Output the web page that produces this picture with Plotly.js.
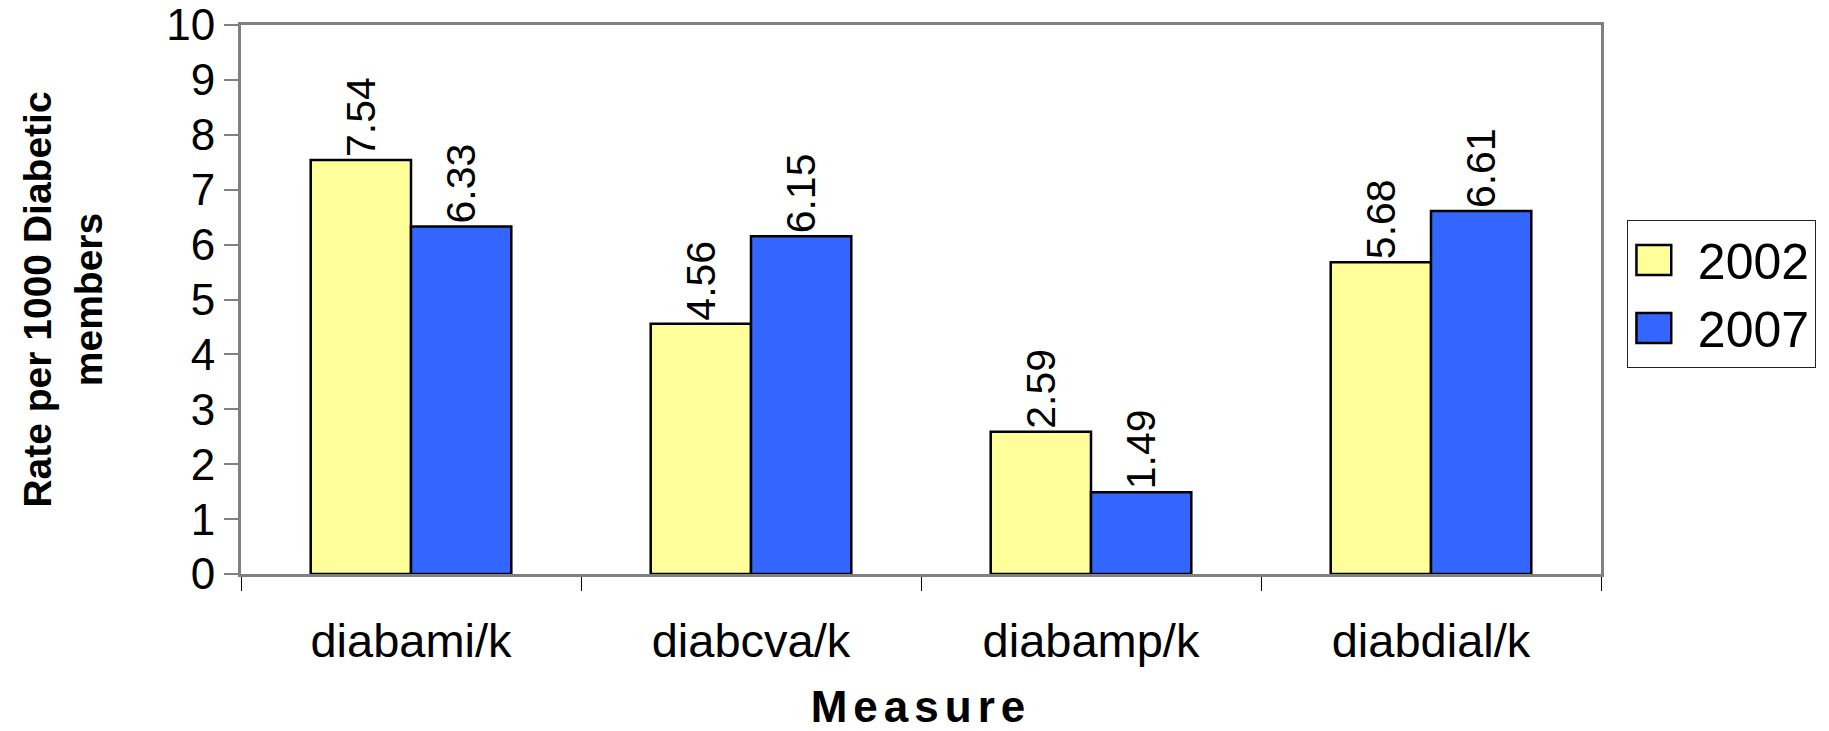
<!DOCTYPE html>
<html>
<head>
<meta charset="utf-8">
<script src="https://cdn.plot.ly/plotly-3.0.1.min.js"></script>
<style>
html,body{margin:0;padding:0;background:#fff;}
#chart{width:1829px;height:731px;}
.xtitle{letter-spacing:6px;}
</style>
</head>
<body>
<div id="chart"></div>
<script>
const categories = ["diabami/k", "diabcva/k", "diabamp/k", "diabdial/k"];
const seriesNames = ["2002", "2007"];
const values2002 = [7.54, 4.56, 2.59, 5.68];
const values2007 = [6.33, 6.15, 1.49, 6.61];
const yTicks = [0,1,2,3,4,5,6,7,8,9,10];

const colors = ["#FFFF99", "#3366FF"];
const allValues = [values2002, values2007];

const traces = allValues.map((vals, i) => ({
  type: "bar",
  name: seriesNames[i],
  legendgroup: "g" + i,
  x: categories,
  y: vals,
  text: vals.map(v => v.toFixed(2)),
  textposition: "outside",
  textangle: -90,
  constraintext: "none",
  cliponaxis: false,
  textfont: {family: "Liberation Sans, Arial, sans-serif", size: 41, color: "#000"},
  marker: {color: colors[i], line: {color: "#000", width: 2.5}},
  hoverinfo: "x+y+name"
}));

const layout = {
  width: 1829, height: 731,
  margin: {l: 241, r: 228, t: 25, b: 157},
  paper_bgcolor: "#fff", plot_bgcolor: "#fff",
  barmode: "group",
  bargap: 0.41, bargroupgap: 0,
  showlegend: true,
  legend: {
    x: 1.019, y: 0.645, xanchor: "left", yanchor: "top",
    bordercolor: "#222", borderwidth: 1,
    font: {family: "Liberation Sans, Arial, sans-serif", size: 50, color: "#000"},
    traceorder: "grouped", tracegroupgap: 0,
    itemwidth: 60
  },
  xaxis: {
    type: "category",
    showline: true, linecolor: "#808080", linewidth: 3,
    mirror: true,
    ticks: "outside", tickson: "boundaries", ticklen: 14, tickcolor: "#000", tickwidth: 1,
    tickfont: {family: "Liberation Sans, Arial, sans-serif", size: 47, color: "#000"},
    ticklabelstandoff: 24,
    showgrid: false,
    title: {text: "Measure", font: {family: "Liberation Sans, Arial, sans-serif", size: 44, color: "#000", weight: "bold"}, standoff: 44}
  },
  yaxis: {
    range: [0, 10],
    tickvals: yTicks,
    ticktext: yTicks.map(String),
    ticklabeloverflow: "allow",
    showline: true, linecolor: "#808080", linewidth: 3,
    mirror: true,
    ticks: "outside", ticklen: 14, tickcolor: "#808080", tickwidth: 2,
    tickfont: {family: "Liberation Sans, Arial, sans-serif", size: 44, color: "#000"},
    showgrid: false, zeroline: false,
    title: {text: "Rate per 1000 Diabetic<br>members", font: {family: "Liberation Sans, Arial, sans-serif", size: 39, color: "#000", weight: "bold"}, standoff: 52}
  }
};

Plotly.newPlot("chart", traces, layout, {displayModeBar: false, staticPlot: true}).then(gd => {
  // enlarge the legend swatches to match the reference's big square keys
  gd.querySelectorAll(".legend .legendpoints path").forEach(p => {
    p.setAttribute("transform", "translate(26,0) scale(2.9,2.5)");
    p.style.vectorEffect = "non-scaling-stroke";
    p.style.strokeWidth = "2.5px";
  });
});
</script>
</body>
</html>
